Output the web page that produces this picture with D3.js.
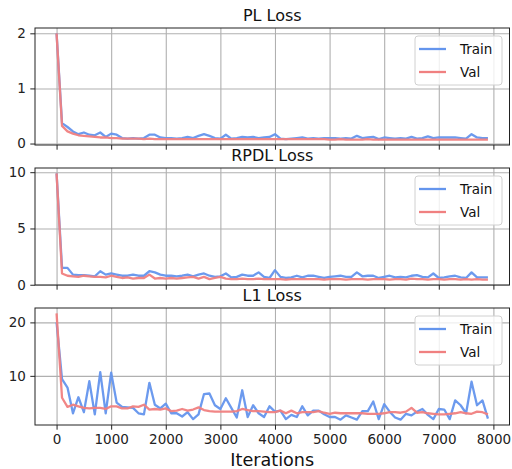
<!DOCTYPE html>
<html lang="en">
<head>
  <meta charset="UTF-8">
  <title>Loss curves</title>
  <script src="https://d3js.org/d3.v7.min.js"></script>
  <style>
    body { margin: 0; background: #fff; }
    svg { display: block; font-family: "DejaVu Sans", sans-serif; }
  </style>
</head>
<body>
  <script>
    // iterations, one point every 100
    const iterations = d3.range(0, 8000, 100);

    const plTrain = [2.0, 0.37, 0.30, 0.22, 0.17, 0.20, 0.16, 0.15, 0.20, 0.12,
      0.18, 0.16, 0.10, 0.09, 0.10, 0.09, 0.10, 0.16, 0.16, 0.11,
      0.10, 0.10, 0.09, 0.10, 0.12, 0.10, 0.14, 0.17, 0.14, 0.10,
      0.09, 0.16, 0.09, 0.10, 0.12, 0.11, 0.12, 0.10, 0.11, 0.12,
      0.17, 0.09, 0.08, 0.09, 0.10, 0.11, 0.09, 0.10, 0.09, 0.10,
      0.10, 0.10, 0.09, 0.10, 0.09, 0.14, 0.10, 0.11, 0.12, 0.08,
      0.11, 0.10, 0.09, 0.10, 0.09, 0.12, 0.09, 0.10, 0.13, 0.10,
      0.11, 0.11, 0.11, 0.11, 0.10, 0.09, 0.17, 0.11, 0.10, 0.10];
    const plVal = [2.0, 0.32, 0.22, 0.18, 0.15, 0.14, 0.13, 0.12, 0.11, 0.11,
      0.10, 0.10, 0.09, 0.09, 0.09, 0.09, 0.08, 0.09, 0.08, 0.08,
      0.08, 0.08, 0.08, 0.08, 0.08, 0.08, 0.08, 0.08, 0.08, 0.08,
      0.08, 0.08, 0.08, 0.08, 0.08, 0.08, 0.08, 0.08, 0.08, 0.08,
      0.08, 0.08, 0.08, 0.08, 0.08, 0.08, 0.08, 0.08, 0.08, 0.08,
      0.07, 0.07, 0.08, 0.07, 0.07, 0.07, 0.07, 0.08, 0.07, 0.07,
      0.07, 0.07, 0.07, 0.07, 0.07, 0.07, 0.07, 0.07, 0.07, 0.07,
      0.07, 0.07, 0.07, 0.07, 0.07, 0.07, 0.07, 0.07, 0.07, 0.07];

    const rpdlTrain = [9.9, 1.5, 1.5, 0.9, 0.85, 0.85, 0.8, 0.75, 1.2, 0.9,
      1.0, 0.9, 0.8, 0.8, 0.9, 0.8, 0.8, 1.2, 1.1, 0.9,
      0.8, 0.8, 0.75, 0.8, 0.9, 0.75, 0.9, 1.0, 0.8, 0.7,
      0.75, 1.0, 0.65, 0.7, 0.9, 0.8, 0.8, 1.1, 0.7, 0.6,
      1.3, 0.7, 0.6, 0.65, 0.8, 0.65, 0.8, 0.8, 0.7, 0.6,
      0.7, 0.75, 0.8, 0.7, 0.7, 1.1, 0.75, 0.8, 0.8, 0.6,
      0.7, 0.8, 0.65, 0.7, 0.65, 0.8, 0.85, 0.7, 0.65, 1.0,
      0.6, 0.65, 0.75, 0.8, 0.65, 0.6, 1.1, 0.65, 0.65, 0.65];
    const rpdlVal = [9.9, 1.0, 0.8, 0.75, 0.7, 0.8, 0.75, 0.7, 0.7, 0.65,
      0.8, 0.7, 0.6, 0.65, 0.55, 0.6, 0.6, 0.9, 0.55, 0.6,
      0.55, 0.6, 0.55, 0.6, 0.65, 0.7, 0.55, 0.7, 0.5, 0.6,
      0.7, 0.55, 0.5, 0.5, 0.55, 0.5, 0.5, 0.55, 0.5, 0.5,
      0.5, 0.5, 0.45, 0.5, 0.5, 0.5, 0.5, 0.5, 0.5, 0.45,
      0.5, 0.5, 0.5, 0.45, 0.5, 0.5, 0.5, 0.45, 0.5, 0.5,
      0.5, 0.45, 0.5, 0.5, 0.45, 0.55, 0.5, 0.5, 0.45, 0.5,
      0.5, 0.45, 0.5, 0.5, 0.45, 0.5, 0.45, 0.5, 0.45, 0.45];

    const l1Train = [20.0, 9.4, 7.8, 3.0, 6.0, 3.2, 9.0, 2.8, 10.7, 3.0,
      10.6, 5.0, 4.2, 4.1, 4.0, 3.0, 2.8, 8.7, 4.6, 3.9,
      4.8, 3.0, 3.0, 2.4, 3.2, 1.9, 2.8, 6.6, 6.7, 4.5,
      3.8, 5.8, 4.0, 2.2, 7.3, 2.3, 4.5, 3.0, 2.3, 4.3,
      3.3, 3.5, 1.9, 2.7, 2.3, 4.3, 2.6, 3.5, 3.5, 2.8,
      2.3, 2.3, 1.8, 2.6, 2.2, 1.8, 3.4, 3.4, 5.2, 1.9,
      4.7, 3.3, 2.2, 1.8, 2.9, 2.6, 3.3, 3.8, 2.7, 1.9,
      3.8, 3.7, 1.9, 5.4, 4.5, 3.0, 8.9, 4.5, 5.4, 2.0];
    const l1Val = [21.7, 5.9, 4.2, 4.6, 4.3, 4.0, 3.9, 4.0, 4.0, 3.8,
      4.3, 4.3, 3.9, 3.9, 4.3, 4.2, 4.6, 3.7, 3.8, 3.7,
      3.9, 3.4, 3.5, 3.8, 3.5, 3.7, 4.1, 3.6, 3.4, 3.3,
      3.3, 3.3, 3.3, 3.4, 3.8, 3.6, 3.4, 3.4, 3.3, 3.2,
      3.2, 3.5, 3.0, 3.5, 3.0, 3.2, 3.2, 3.2, 3.4, 3.1,
      2.9, 3.1, 3.0, 3.0, 3.0, 3.0, 3.0, 2.9, 2.9, 2.9,
      3.0, 3.2, 3.2, 3.1, 3.3, 4.0, 3.1, 3.2, 3.0, 2.9,
      2.8, 2.8, 2.9, 3.0, 3.2, 3.0, 2.9, 3.3, 3.2, 2.8];

    const panels = [
      { title: "PL Loss", train: plTrain, val: plVal, ticks: [0, 1, 2], top: 28 },
      { title: "RPDL Loss", train: rpdlTrain, val: rpdlVal, ticks: [0, 5, 10], top: 168 },
      { title: "L1 Loss", train: l1Train, val: l1Val, ticks: [10, 20], top: 308 }
    ];
    const xTicks = d3.range(0, 8001, 1000);

    const width = 512, height = 469;
    const left = 35, right = 509.5, panelH = 117;
    const trainColor = "cornflowerblue", valColor = "lightcoral";

    const svg = d3.select("body").append("svg")
        .attr("width", width)
        .attr("height", height);

    // matplotlib style 5% margins on x
    const xMin = 0, xMax = 7900, xPad = (xMax - xMin) * 0.05;
    const x = d3.scaleLinear()
        .domain([xMin - xPad, xMax + xPad])
        .range([left, right]);

    panels.forEach((p, idx) => {
      const all = p.train.concat(p.val);
      const lo = d3.min(all), hi = d3.max(all), pad = (hi - lo) * 0.05;
      const y = d3.scaleLinear()
          .domain([lo - pad, hi + pad])
          .range([p.top + panelH, p.top]);

      const g = svg.append("g");

      // grid
      g.append("g")
          .attr("transform", `translate(0,${p.top + panelH})`)
          .call(d3.axisBottom(x).tickValues(xTicks).tickSize(-panelH).tickFormat(""))
          .call(s => s.select(".domain").remove())
          .call(s => s.selectAll("line").attr("stroke", "#b0b0b0").attr("stroke-width", 1.1));
      g.append("g")
          .attr("transform", `translate(${left},0)`)
          .call(d3.axisLeft(y).tickValues(p.ticks).tickSize(-(right - left)).tickFormat(""))
          .call(s => s.select(".domain").remove())
          .call(s => s.selectAll("line").attr("stroke", "#b0b0b0").attr("stroke-width", 1.1));

      // lines
      const line = vals => d3.line()
          .x((d, i) => x(iterations[i]))
          .y(d => y(d))(vals);
      g.append("path")
          .attr("d", line(p.train))
          .attr("fill", "none")
          .attr("stroke", trainColor)
          .attr("stroke-opacity", 0.95)
          .attr("stroke-linejoin", "round")
          .attr("stroke-width", 2.3);
      g.append("path")
          .attr("d", line(p.val))
          .attr("fill", "none")
          .attr("stroke", valColor)
          .attr("stroke-opacity", 0.95)
          .attr("stroke-linejoin", "round")
          .attr("stroke-width", 2.3);

      // axes with ticks
      const yAxis = g.append("g")
          .attr("transform", `translate(${left},0)`)
          .call(d3.axisLeft(y).tickValues(p.ticks).tickSize(4.7).tickPadding(4.5)
            .tickFormat(d3.format("d")));
      yAxis.select(".domain").remove();
      yAxis.selectAll("text").attr("font-size", 13.5).attr("fill", "#222")
          .attr("font-family", "DejaVu Sans");
      yAxis.selectAll("line").attr("stroke", "#222");

      const xAxis = g.append("g")
          .attr("transform", `translate(0,${p.top + panelH})`)
          .call(d3.axisBottom(x).tickValues(xTicks).tickSize(4.7).tickPadding(4.5)
            .tickFormat(idx === 2 ? d3.format("d") : ""));
      xAxis.select(".domain").remove();
      xAxis.selectAll("text").attr("font-size", 13.5).attr("fill", "#222")
          .attr("font-family", "DejaVu Sans");
      xAxis.selectAll("line").attr("stroke", "#222");

      // frame
      g.append("rect")
          .attr("x", left).attr("y", p.top)
          .attr("width", right - left).attr("height", panelH)
          .attr("fill", "none").attr("stroke", "#222").attr("stroke-width", 1);

      // title
      g.append("text")
          .attr("x", (left + right) / 2)
          .attr("y", p.top - 7)
          .attr("text-anchor", "middle")
          .attr("font-size", 16)
          .attr("fill", "#111")
          .text(p.title);

      // legend
      const lg = g.append("g").attr("transform", `translate(415,${p.top + 8})`);
      lg.append("rect")
          .attr("width", 87).attr("height", 49).attr("rx", 3)
          .attr("fill", "#fff").attr("fill-opacity", 0.8)
          .attr("stroke", "#d0d0d0");
      [["Train", trainColor], ["Val", valColor]].forEach(([name, c], i) => {
        const cy = 13 + i * 23;
        lg.append("line")
            .attr("x1", 4).attr("x2", 31).attr("y1", cy).attr("y2", cy)
            .attr("stroke", c).attr("stroke-width", 2.3);
        lg.append("text")
            .attr("x", 45).attr("y", cy + 5)
            .attr("font-size", 13.5).attr("fill", "#111")
            .text(name);
      });
    });

    // x label
    svg.append("text")
        .attr("x", (left + right) / 2)
        .attr("y", 466)
        .attr("text-anchor", "middle")
        .attr("font-size", 17.6)
        .attr("fill", "#111")
        .text("Iterations");
  </script>
</body>
</html>
